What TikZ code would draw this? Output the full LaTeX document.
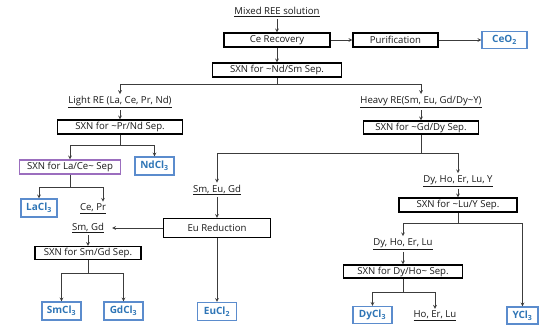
\documentclass[tikz,border=0pt]{standalone}
\usepackage{fontspec}
\setmainfont{Open Sans}
\usepackage{xcolor}
\usepackage{tikz}
\usetikzlibrary{positioning,calc}

\definecolor{chemblue}{RGB}{46,117,182}
\definecolor{edgeblue}{RGB}{91,140,205}
\definecolor{sepviolet}{RGB}{155,110,190}
\definecolor{linegray}{RGB}{60,60,60}

\tikzset{
	procbox/.style={draw=black,line width=1.3pt,minimum height=14,inner sep=1pt,fill=white},
	prodbox/.style={draw=edgeblue,line width=1.3pt,minimum height=18,inner sep=1pt,text=chemblue,font=\fontsize{10}{12}\selectfont\bfseries},
	mixlabel/.style={inner sep=2pt},
	flow/.style={-stealth,draw=linegray,line width=0.7pt},
	branch/.style={draw=linegray,line width=0.7pt},
}

\begin{document}
\begin{tikzpicture}[x=1pt,y=-1pt,font=\fontsize{9.6}{12}\selectfont,text=black!90]
		\useasboundingbox (0,0) rectangle (539,327);
		
		\node[mixlabel] (mix) at (277,12) {\underline{Mixed REE solution}};
		\node[procbox,minimum width=106] (cerec) at (277,40) {Ce Recovery};
		\draw[flow] (mix) -- (cerec);
		\node[procbox,minimum width=85] (purif) at (395.5,40) {Purification};
		\draw[flow] (cerec) -- (purif);
		\node[prodbox,minimum width=45,minimum height=17] (ceo) at (504.5,40) {CeO\textsubscript{2}};
		\draw[flow] (purif) -- (ceo);
		
		\node[procbox,minimum width=129] (ndsm) at (277,70) {SXN for \textasciitilde Nd/Sm Sep.};
		\draw[flow] (cerec) -- (ndsm);
		\coordinate (split1) at (277,84);
		\draw[branch] (ndsm.south) -- (split1);
		
		% light rare earths
		\node[mixlabel] (light) at (120,102) {\underline{Light RE (La, Ce, Pr, Nd)}};
		\draw[flow] (split1) -| (light.north);
		\node[procbox,minimum width=125] (prnd) at (120,127) {SXN for \textasciitilde Pr/Nd Sep.};
		\draw[flow] (light) -- (prnd);
		\coordinate (split2) at (120,145);
		\draw[branch] (prnd.south) -- (split2);
		\node[procbox,draw=sepviolet,minimum width=101] (lace) at (70,167) {SXN for La/Ce\textasciitilde{} Sep};
		\draw[flow] (split2) -| (lace.north);
		\node[prodbox,minimum width=39] (ndcl) at (154.5,166) {NdCl\textsubscript{3}};
		\draw[flow] (split2) -| (ndcl.north);
		\coordinate (split3) at (70,187);
		\draw[branch] (lace.south) -- (split3);
		\node[prodbox,minimum width=36] (lacl) at (39,208) {LaCl\textsubscript{3}};
		\draw[flow] (split3) -| (lacl.north);
		\node[mixlabel] (cepr) at (93,209) {\underline{Ce, Pr}};
		\draw[flow] (split3) -| ([xshift=10]cepr.north);
		
		% heavy rare earths
		\node[mixlabel] (heavy) at (421,102) {\underline{Heavy RE(Sm, Eu, Gd/Dy\textasciitilde Y)}};
		\draw[flow] (split1) -| (heavy.north);
		\node[procbox,minimum width=115,minimum height=13] (gddy) at (421,127.5) {SXN for \textasciitilde Gd/Dy Sep.};
		\draw[flow] (heavy) -- (gddy);
		\coordinate (split4) at (421,153);
		\draw[branch] (gddy.south) -- (split4);
		
		\node[mixlabel] (smeu) at (217,190) {\underline{Sm, Eu, Gd}};
		\draw[flow] (split4) -| (smeu.north);
		\node[procbox,minimum width=107,minimum height=19] (eured) at (217,228) {Eu Reduction};
		\draw[flow] (smeu) -- (eured);
		\node[prodbox,minimum width=39] (eucl) at (217,311.5) {EuCl\textsubscript{2}};
		\draw[flow] (eured) -- (eucl);
		\node[mixlabel] (smgd) at (88,228) {\underline{Sm, Gd}};
		\draw[flow] (eured.west) -- ([xshift=6]smgd.east);
		\node[procbox,minimum width=106,minimum height=13] (smgdsep) at (88,253) {SXN for Sm/Gd Sep.};
		\draw[flow] (smgd) -- (smgdsep);
		\coordinate (split5) at (88,273);
		\draw[branch] (smgdsep.south) -- (split5);
		\node[prodbox,minimum width=39] (smcl) at (61.5,311) {SmCl\textsubscript{3}};
		\draw[flow] (split5) -| (smcl.north);
		\node[prodbox,minimum width=39] (gdcl) at (123.5,311) {GdCl\textsubscript{3}};
		\draw[flow] (split5) -| (gdcl.north);
		
		\node[mixlabel] (dyy) at (458,181) {\underline{Dy, Ho, Er, Lu, Y}};
		\draw[flow] (split4) -| (dyy.north);
		\node[procbox,minimum width=118] (luy) at (458,205) {SXN for \textasciitilde Lu/Y Sep.};
		\draw[flow] (dyy) -- (luy);
		\coordinate (split6) at (458,223);
		\draw[branch] (luy.south) -- (split6);
		\node[mixlabel] (dyho) at (403,244) {\underline{Dy, Ho, Er, Lu}};
		\draw[flow] (split6) -| (dyho.north);
		\node[prodbox,minimum width=31,minimum height=17] (ycl) at (522.5,315.5) {YCl\textsubscript{3}};
		\draw[flow] (split6) -| (ycl.north);
		\node[procbox,minimum width=119,minimum height=13] (dyhosep) at (403,271.5) {SXN for Dy/Ho\textasciitilde{} Sep.};
		\draw[flow] (dyho) -- (dyhosep);
		\coordinate (split7) at (403,292);
		\draw[branch] (dyhosep.south) -- (split7);
		\node[prodbox,minimum width=39,minimum height=17] (dycl) at (372.5,315) {DyCl\textsubscript{3}};
		\draw[flow] (split7) -| (dycl.north);
		\node[mixlabel] (hoer) at (435,316) {\underline{Ho, Er, Lu}};
		\draw[flow] (split7) -| (hoer.north);
	\end{tikzpicture}
\end{document}
